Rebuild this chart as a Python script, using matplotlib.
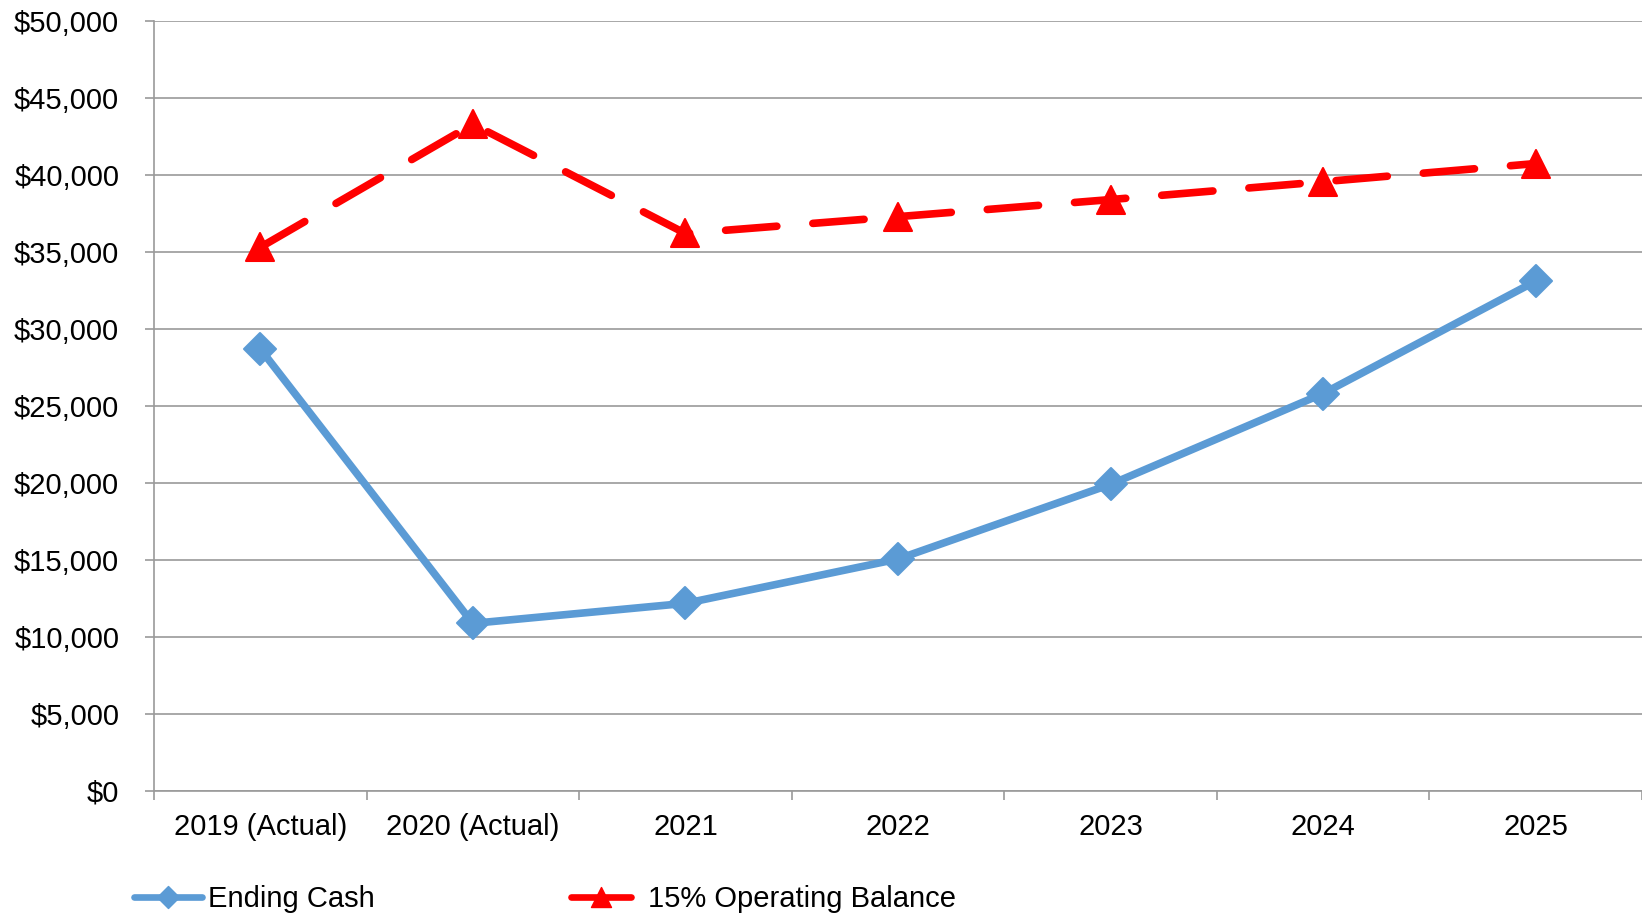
import matplotlib
matplotlib.use("Agg")
import matplotlib.pyplot as plt
from matplotlib.ticker import FuncFormatter
from matplotlib.lines import Line2D
from matplotlib.markers import MarkerStyle

# Data
categories = ["2019 (Actual)", "2020 (Actual)", "2021", "2022", "2023", "2024", "2025"]
ending_cash = [28700, 10870, 12170, 15050, 19900, 25800, 33100]
operating_balance = [35300, 43300, 36200, 37290, 38400, 39560, 40740]
y_ticks = [0, 5000, 10000, 15000, 20000, 25000, 30000, 35000, 40000, 45000, 50000]
series_names = ["Ending Cash", "15% Operating Balance"]

plt.rcParams['font.family'] = ['Liberation Sans', 'DejaVu Sans']
plt.rcParams['lines.scale_dashes'] = False

W, H = 1642, 913
fig = plt.figure(figsize=(W / 100, H / 100), dpi=100)
left_px, top_px, bottom_px = 154, 21, 790.7
ax = fig.add_axes([left_px / W, 1 - bottom_px / H, 1 - left_px / W, (bottom_px - top_px) / H])

blue = '#5B9BD5'
red = '#FF0000'
grid_color = '#9A9A9A'
fs = 21

x = list(range(len(categories)))
ax.set_xlim(-0.5, len(categories) - 0.5)
ax.set_ylim(0, 50000)
ax.set_yticks(y_ticks)
ax.yaxis.set_major_formatter(FuncFormatter(lambda v, p: f"${v:,.0f}"))
ax.grid(axis='y', color=grid_color, linewidth=1.2)
ax.set_axisbelow(True)
for s in ['top', 'right']:
    ax.spines[s].set_visible(False)
for s in ['left', 'bottom']:
    ax.spines[s].set_color(grid_color)
    ax.spines[s].set_linewidth(1.2)

ax.tick_params(axis='y', length=6.5, width=1.2, color=grid_color, labelsize=fs, pad=18.5)
ax.set_xticks(x)
ax.set_xticklabels(categories)
ax.set_xticks([i - 0.5 for i in range(len(categories) + 1)], minor=True)
ax.tick_params(axis='x', which='major', length=0, labelsize=fs, pad=16)
ax.tick_params(axis='x', which='minor', length=6.5, width=1.2, color=grid_color)

diamond = MarkerStyle('D', joinstyle='round')
triangle = MarkerStyle('^', joinstyle='round')

ax.plot(x, ending_cash, color=blue, lw=5.5, marker=diamond, ms=16, mew=1.5,
        solid_joinstyle='round', solid_capstyle='round', zorder=3)
ax.plot(x, operating_balance, color=red, lw=5.5, linestyle=(0, (37, 26)),
        dash_capstyle='round', marker=triangle, ms=20.5, mew=1.5, zorder=3)

# Legend entries along the bottom
h_cash = Line2D([], [], color=blue, lw=4.8, marker=diamond, ms=11.5, mew=1,
                solid_capstyle='round')
h_bal = Line2D([], [], color=red, lw=4.8, marker=triangle, ms=14.5, mew=1,
               solid_capstyle='round')
em = fs * 100 / 72
leg_y = 1 - 899 / H
fig.legend(handles=[h_cash], labels=[series_names[0]], loc='center left',
           bbox_to_anchor=(134 / W, leg_y), frameon=False, borderpad=0,
           borderaxespad=0, handlelength=68 / em, handletextpad=6 / em, fontsize=fs)
fig.legend(handles=[h_bal], labels=[series_names[1]], loc='center left',
           bbox_to_anchor=(571 / W, leg_y), frameon=False, borderpad=0,
           borderaxespad=0, handlelength=60 / em, handletextpad=17 / em, fontsize=fs)

fig.savefig('out.png', dpi=100)
